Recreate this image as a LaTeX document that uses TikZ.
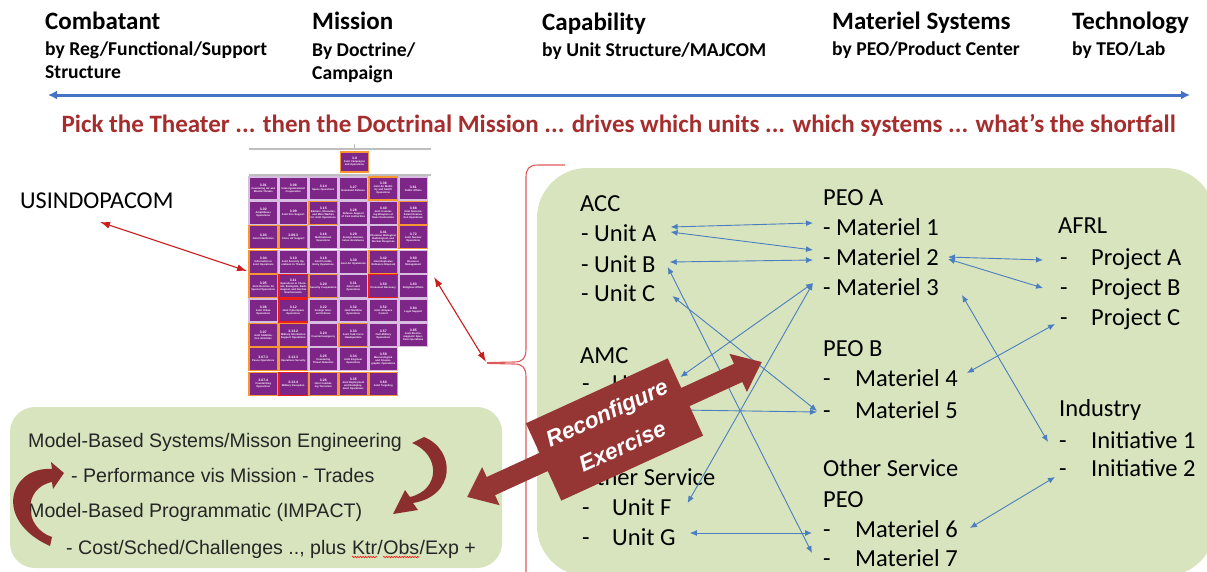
\documentclass[tikz,border=0pt]{standalone}
\usepackage{fontspec}
\usepackage{graphicx}
\setmainfont{Carlito}
\newfontfamily\arialfont{Liberation Sans}
\usetikzlibrary{arrows.meta,calc,decorations.pathmorphing}

\definecolor{boxgreen}{RGB}{216,228,190}
\definecolor{linkblue}{RGB}{74,126,190}
\definecolor{axisblue}{RGB}{68,114,196}
\definecolor{tagred}{RGB}{165,45,45}
\definecolor{blockred}{RGB}{150,54,52}
\definecolor{curlred}{RGB}{138,46,46}
\definecolor{jppurple}{RGB}{125,38,135}
\definecolor{jporange}{RGB}{247,150,50}
\definecolor{jpred}{RGB}{235,30,30}
\definecolor{cellplain}{RGB}{215,190,225}
\definecolor{bracered}{RGB}{222,90,90}
\definecolor{pointred}{RGB}{200,30,30}
\definecolor{lbgray}{RGB}{38,38,38}
\definecolor{rulegray}{RGB}{190,190,190}

\begin{document}
\begin{tikzpicture}[x=1pt,y=-1pt,
  hdr/.style={anchor=base west, inner sep=0, font=\bfseries\fontsize{25}{30}\selectfont},
  subhdr/.style={anchor=base west, inner sep=0, font=\bfseries\fontsize{19.6}{24}\selectfont},
  item/.style={anchor=base west, inner sep=0, text height=16pt, text depth=0pt, font=\fontsize{24.5}{30}\selectfont},
  lbtext/.style={anchor=base west, inner sep=0, text=lbgray, font=\arialfont\fontsize{19.6}{24}\selectfont},
  link/.style={draw=linkblue, line width=0.9pt, {Latex[length=7pt,width=6pt]}-{Latex[length=7pt,width=6pt]}},
  pointer/.style={draw=pointred, line width=1.1pt, {Latex[length=10pt,width=7pt]}-{Latex[length=10pt,width=7pt]}},
  axis/.style={draw=axisblue, line width=3pt, {Latex[length=9pt,width=9pt]}-{Latex[length=9pt,width=9pt]}},
  brace/.style={draw=bracered, line width=1.1pt},
  gridrule/.style={draw=rulegray, line width=1.5pt},
  jpcell/.style={fill=jppurple, text=white, minimum width=28.5pt, minimum height=23pt,
    text width=26.5pt, inner sep=0.5pt, align=center, line width=1.2pt,
    font=\arialfont\bfseries\fontsize{2.6}{3}\selectfont},
  recbox/.style={fill=blockred, text=white, minimum width=156pt, minimum height=85pt,
    align=center, inner sep=0, transform shape,
    font=\arialfont\bfseries\itshape\fontsize{22.5}{37}\selectfont},
  wavy/.style={draw=red, line width=0.5pt, decorate, decoration={snake, amplitude=0.7pt, segment length=2.6pt}}
]
\useasboundingbox (0,0) rectangle (1207,571);
\clip (0,0) rectangle (1207,571);

% ---------- column headings ----------
\node[hdr] (combat) at (45,29) {Combatant};
\node[subhdr] (combatA) at (45,55) {by Reg/Functional/Support};
\node[subhdr] (combatB) at (45,78) {Structure};
\node[hdr] (mission) at (312,29) {Mission};
\node[subhdr] (missionA) at (312,56) {By Doctrine/};
\node[subhdr] (missionB) at (312,79) {Campaign};
\node[hdr] (capab) at (542,30) {Capability};
\node[subhdr] (capabA) at (542,56.5) {by Unit Structure/MAJCOM};
\node[hdr] (materiel) at (832,29) {Materiel Systems};
\node[subhdr] (materielA) at (832,55) {by PEO/Product Center};
\node[hdr] (tech) at (1072,29) {Technology};
\node[subhdr] (techA) at (1072,55) {by TEO/Lab};

\coordinate (axisL) at (48,95);
\coordinate (axisR) at (1190,95);
\draw[axis] (axisL) -- (axisR);

\node[anchor=base west, inner sep=0, text=tagred] (tagline) at (61.5,132)
  {\resizebox{1114pt}{!}{\bfseries\fontsize{23}{28}\selectfont Pick the Theater ... then the Doctrinal Mission ... drives which units ... which systems ... what's the shortfall}};

% ---------- green panels ----------
\fill[boxgreen, rounded corners=50pt] (537,168) rectangle (1215,576);
\fill[boxgreen, rounded corners=25pt] (10,407) rectangle (502,568);

% ---------- brace ----------
\draw[brace] (565,165) -- (538,165) .. controls (529,165) and (526,169) .. (526,177)
  -- (526,349) .. controls (526,358) and (523,362) .. (514,362) -- (487,362.6);
\draw[brace] (487,363.4) -- (514,364) .. controls (523,364) and (526,368) .. (526,377) -- (526,580);

% ---------- joint publication chart ----------
\draw[gridrule] (249,149) -- (431,149);
\draw[rulegray, line width=0.8pt] (354,144) -- (354,149);
\draw[gridrule, line width=2pt] (249,174.5) -- (431,174.5);
\node[jpcell, draw=jporange, minimum height=20pt] (jp-0) at (354.5,162)
  {{\fontsize{3.4}{3.8}\selectfont 3-0}\\Joint Campaigns and Operations};
\foreach \jr/\jc/\jb/\jn/\jt in {
 1/1/cellplain/3-01/{Countering Air and Missile Threats},
 1/2/cellplain/3-08/{Interorganizational Cooperation},
 1/3/cellplain/3-14/{Space Operations},
 1/4/cellplain/3-27/{Homeland Defense},
 1/5/jporange/3-36/{Joint Air Mobility and Sealift Operations},
 1/6/cellplain/3-61/{Public Affairs},
 2/1/cellplain/3-02/{Amphibious Operations},
 2/2/cellplain/3-09/{Joint Fire Support},
 2/3/jporange/3-15/{Barriers, Obstacles, and Mine Warfare for Joint Operations},
 2/4/cellplain/3-28/{Defense Support of Civil Authorities},
 2/5/cellplain/3-40/{Joint Countering Weapons of Mass Destruction},
 2/6/jporange/3-68/{Joint Noncombatant Evacuation Operations},
 3/1/jporange/3-03/{Joint Interdiction},
 3/2/jporange/3-09.3/{Close Air Support},
 3/3/cellplain/3-16/{Multinational Operations},
 3/4/cellplain/3-29/{Foreign Humanitarian Assistance},
 3/5/cellplain/3-41/{Chemical, Biological, Radiological, and Nuclear Response},
 3/6/jporange/3-72/{Joint Nuclear Operations},
 4/1/jporange/3-04/{Information in Joint Operations},
 4/2/cellplain/3-10/{Joint Security Operations in Theater},
 4/3/cellplain/3-18/{Joint Forcible Entry Operations},
 4/4/cellplain/3-30/{Joint Air Operations},
 4/5/jporange/3-42/{Joint Explosive Ordnance Disposal},
 4/6/cellplain/3-80/{Resource Management},
 5/1/jporange/3-05/{Joint Doctrine for Special Operations},
 5/2/jpred/3-11/{Operations in Chemical, Biological, Radiological, and Nuclear Environments},
 5/3/jporange/3-20/{Security Cooperation},
 5/4/cellplain/3-31/{Joint Land Operations},
 5/5/jpred/3-50/{Personnel Recovery},
 5/6/cellplain/3-83/{Religious Affairs},
 6/1/cellplain/3-06/{Joint Urban Operations},
 6/2/jpred/3-12/{Joint Cyberspace Operations},
 6/3/cellplain/3-22/{Foreign Internal Defense},
 6/4/cellplain/3-32/{Joint Maritime Operations},
 6/5/cellplain/3-52/{Joint Airspace Control},
 6/6/cellplain/3-84/{Legal Support},
 7/1/jporange/3-07/{Joint Stabilization Activities},
 7/2/jporange/3-13.2/{Military Information Support Operations},
 7/3/cellplain/3-24/{Counterinsurgency},
 7/4/jporange/3-33/{Joint Task Force Headquarters},
 7/5/cellplain/3-57/{Civil-Military Operations},
 7/6/cellplain/3-85/{Joint Electromagnetic Spectrum Operations},
 8/1/jporange/3-07.3/{Peace Operations},
 8/2/jporange/3-13.3/{Operations Security},
 8/3/cellplain/3-25/{Countering Threat Networks},
 8/4/cellplain/3-34/{Joint Engineer Operations},
 8/5/cellplain/3-59/{Meteorological and Oceanographic Operations},
 9/1/jporange/3-07.4/{Counterdrug Operations},
 9/2/jpred/3-13.4/{Military Deception},
 9/3/jporange/3-26/{Joint Combating Terrorism},
 9/4/jporange/3-35/{Joint Deployment and Redeployment Operations},
 9/5/jporange/3-60/{Joint Targeting}}
{\node[jpcell, draw=\jb] (jp-\jr-\jc) at ({249+30*(\jc-1)+14.25},{177+24.4*(\jr-1)+11.5})
   {{\fontsize{3.4}{3.8}\selectfont\jn}\\\jt};}

% ---------- theater ----------
\node[anchor=base west, inner sep=0, font=\fontsize{24.2}{29}\selectfont] (usindo) at (20,208) {USINDOPACOM};
\coordinate (indoTip) at (100,222);
\coordinate (gridL) at (247,271);
\coordinate (gridR) at (434,277);
\coordinate (braceTip) at (486,362);
\draw[pointer] (indoTip) -- (gridL);
\draw[pointer] (gridR) -- (braceTip);

% ---------- units / PEOs / labs ----------
\node[item] (acc) at (580,211) {ACC};
\node[item] (unitA) at (581,241) {- Unit A};
\node[item] (unitB) at (581,272) {- Unit B};
\node[item] (unitC) at (581,301) {- Unit C};
\node[item] (amc) at (580,363) {AMC};
\node[item] (unitD) at (582,391) {\makebox[30pt][l]{-}Unit D};
\node[item] (unitE) at (582,421) {\makebox[30pt][l]{-}Unit E};
\node[item] (osvc) at (580,485) {Other Service};
\node[item] (unitF) at (582,515) {\makebox[30pt][l]{-}Unit F};
\node[item] (unitG) at (582,545) {\makebox[30pt][l]{-}Unit G};

\node[item] (peoA) at (823,205) {PEO A};
\node[item] (mat1) at (823,235) {- Materiel 1};
\node[item] (mat2) at (823,265) {- Materiel 2};
\node[item] (mat3) at (823,295) {- Materiel 3};
\node[item] (peoB) at (823,356) {PEO B};
\node[item] (mat4) at (823,386) {\makebox[32pt][l]{-}Materiel 4};
\node[item] (mat5) at (823,418) {\makebox[32pt][l]{-}Materiel 5};
\node[item] (ospeo) at (823,476) {Other Service};
\node[item] (ospeoB) at (823,507) {PEO};
\node[item] (mat6) at (823,537) {\makebox[32pt][l]{-}Materiel 6};
\node[item] (mat7) at (823,566) {\makebox[32pt][l]{-}Materiel 7};

\node[item] (afrl) at (1058,233) {AFRL};
\node[item] (projA) at (1060,265) {\makebox[31pt][l]{-}Project A};
\node[item] (projB) at (1060,295) {\makebox[31pt][l]{-}Project B};
\node[item] (projC) at (1060,325) {\makebox[31pt][l]{-}Project C};
\node[item] (industry) at (1059,416) {Industry};
\node[item] (init1) at (1059,448) {\makebox[32pt][l]{-}Initiative 1};
\node[item] (init2) at (1059,476) {\makebox[32pt][l]{-}Initiative 2};

% ---------- links ----------
\draw[link] ($(unitA.east)+(14,-6)$) -- ($(mat1.west)+(-10,-4)$);
\draw[link] ($(unitA.east)+(14,-1)$) -- ($(mat2.west)+(-10,-7)$);
\draw[link] ($(unitB.east)+(14,-2)$) -- ($(mat2.west)+(-10,3)$);
\draw[link] ($(unitB.east)+(12,3)$) -- ($(mat7.west)+(-11,-5)$);
\draw[link] ($(unitC.east)+(17,3)$) -- ($(mat5.west)+(-6,1)$);
\draw[link] ($(mat3.west)+(-10,-4)$) -- ($(unitD.east)+(5,-6)$);
\draw[link] ($(mat3.west)+(-10,-4)$) -- ($(unitF.east)+(16,-4)$);
\draw[link] ($(unitE.east)+(9,-3)$) -- ($(mat5.west)+(-6,2)$);
\draw[link] ($(unitG.east)+(14,-4)$) -- ($(mat6.west)+(-11,4)$);
\draw[link] ($(mat2.east)+(9,0)$) -- ($(projA.west)+(-17,3)$);
\draw[link] ($(mat2.east)+(9,2)$) -- ($(projB.west)+(-17,1)$);
\draw[link] ($(projC.west)+(-5,7)$) -- ($(mat4.east)+(9,-5)$);
\draw[link] ($(mat3.east)+(23,8)$) -- ($(init1.west)+(-11,2)$);
\draw[link] ($(init2.west)+(-4,9)$) -- ($(mat6.east)+(12,-1)$);

% ---------- engineering panel ----------
\node[lbtext] (mbse) at (28,447) {Model-Based Systems/Misson Engineering};
\node[lbtext] (perf) at (71,482) {- Performance vis Mission - Trades};
\node[lbtext] (mbp) at (28,517) {Model-Based Programmatic (IMPACT)};
\node[lbtext] (cost) at (66,554) {- Cost/Sched/Challenges .., plus};
\node[lbtext] (ktr) at ($(cost.base east)+(5.45,0)$) {Ktr};
\node[lbtext] (slashA) at (ktr.base east) {/};
\node[lbtext] (obs) at (slashA.base east) {Obs};
\node[lbtext] (rest) at (obs.base east) {/Exp +};
\draw[wavy] ($(ktr.base west)+(0,3)$) -- ($(ktr.base east)+(0,3)$);
\draw[wavy] ($(obs.base west)+(0,3)$) -- ($(obs.base east)+(0,3)$);

% curved loop arrows
\fill[curlred] (424,437) .. controls (456,450) and (456,496) .. (413,503)
  -- (418,510) -- (393,514) -- (405,490) -- (410,497)
  .. controls (440,490) and (441,455) .. (412,443) -- cycle;
\fill[curlred] (52,469) .. controls (10,466) and (-8,520) .. (50,546)
  -- (52,537) .. controls (24,528) and (22,488) .. (52,482)
  -- (53,489) -- (64,473) -- (51,462) -- cycle;

% ---------- reconfigure arrow ----------
\begin{scope}[shift={(614.5,429.5)}, rotate=24.6]
  \fill[blockred] (-162,0) -- (-136,-21) -- (-136,-10) -- (136,-10) -- (136,-21)
    -- (162,0) -- (136,21) -- (136,10) -- (-136,10) -- (-136,21) -- cycle;
  \node[recbox] (reconf) at (0,0) {Reconfigure\\Exercise};
\end{scope}
\end{tikzpicture}
\end{document}
